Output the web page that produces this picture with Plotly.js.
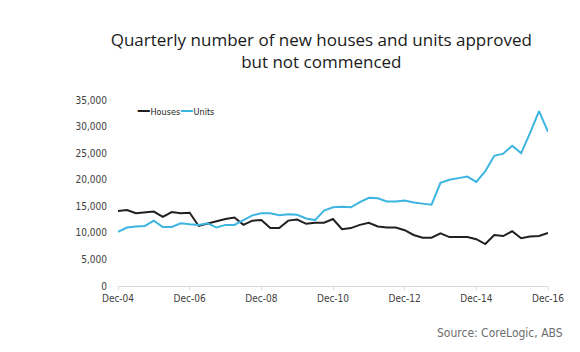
<!DOCTYPE html>
<html>
<head>
<meta charset="utf-8">
<script src="https://cdn.plot.ly/plotly-3.0.1.min.js"></script>
<style>html,body{margin:0;padding:0;background:#fff;}#chart{width:580px;height:352px;}</style>
</head>
<body>
<div id="chart"></div>
<script>
// Quarterly, Dec-04 to Dec-16 (49 quarters)
const quarterIndex = Array.from({length: 49}, (_, i) => i);
const houses = [14100, 14300, 13700, 13800, 14000, 13000, 13900, 13700, 13800, 11300,
  11800, 12200, 12600, 12900, 11500, 12300, 12400, 10900, 10900, 12300,
  12500, 11700, 11900, 11900, 12600, 10700, 10900, 11500, 11900, 11200,
  11000, 11000, 10500, 9600, 9100, 9100, 9900, 9200, 9200, 9200,
  8800, 7900, 9600, 9400, 10300, 9000, 9300, 9400, 10000];
const units = [10200, 11000, 11200, 11300, 12300, 11100, 11100, 11800, 11600, 11500,
  11800, 11000, 11500, 11500, 12400, 13300, 13700, 13700, 13300, 13500,
  13400, 12700, 12400, 14200, 14800, 14900, 14800, 15800, 16600, 16500,
  15900, 15900, 16100, 15700, 15500, 15300, 19400, 20000, 20300, 20600,
  19600, 21600, 24500, 24900, 26400, 25000, 28800, 32900, 29000];
const seriesNames = ["Houses", "Units"];
const seriesColors = ["#231f20", "#3db5e0"];
const tickPositions = [0, 8, 16, 24, 32, 40, 48];
const tickLabels = ["Dec-04", "Dec-06", "Dec-08", "Dec-10", "Dec-12", "Dec-14", "Dec-16"];

const narrow = "Liberation Sans Narrow, DejaVu Sans Condensed, Arial Narrow, sans-serif";
const tickFont = {family: narrow, size: 10, color: "#404040"};

const traces = [
  {x: quarterIndex, y: houses, name: seriesNames[0], type: "scatter", mode: "lines",
   line: {color: seriesColors[0], width: 2}},
  {x: quarterIndex, y: units, name: seriesNames[1], type: "scatter", mode: "lines",
   line: {color: seriesColors[1], width: 2}}
];

const legendText = seriesNames.map((n, i) =>
  '<span style="color:' + seriesColors[i] + ';font-size:15px"><b>—</b></span>' + n).join('');

const layout = {
  width: 580, height: 352,
  margin: {l: 118, r: 32, t: 100, b: 66},
  paper_bgcolor: "#fff", plot_bgcolor: "#fff",
  title: {
    text: "Quarterly number of new houses and units approved<br>but not commenced",
    font: {family: "Open Sans, sans-serif", size: 17, color: "#1a1a1a"},
    x: 0.554, xanchor: "center", xref: "container",
    y: 0.87, yanchor: "top", yref: "container"
  },
  showlegend: false,
  xaxis: {
    range: [0, 48], tickmode: "array", tickvals: tickPositions, ticktext: tickLabels,
    showgrid: false, zeroline: false, showline: true, linecolor: "#d9d9d9", linewidth: 1,
    ticks: "outside", ticklen: 3, tickcolor: "#d9d9d9",
    tickfont: tickFont, fixedrange: true
  },
  yaxis: {
    range: [0, 35000], tickvals: [0, 5000, 10000, 15000, 20000, 25000, 30000, 35000],
    tickformat: ",d", showgrid: false, zeroline: false, showline: false,
    ticks: "outside", ticklen: 8, tickcolor: "rgba(0,0,0,0)",
    tickfont: tickFont, fixedrange: true
  },
  annotations: [{
    text: legendText, xref: "paper", yref: "paper",
    x: 0.04, y: 0.946, xanchor: "left", yanchor: "middle", showarrow: false,
    font: {family: narrow, size: 9, color: "#222"}
  }, {
    text: "Source: CoreLogic, ABS", xref: "paper", yref: "paper",
    x: 1.04, y: -0.253, xanchor: "right", yanchor: "middle", showarrow: false,
    font: {family: narrow, size: 12, color: "#6d6d6d"}
  }]
};

Plotly.newPlot("chart", traces, layout, {displayModeBar: false, staticPlot: true});
</script>
</body>
</html>
